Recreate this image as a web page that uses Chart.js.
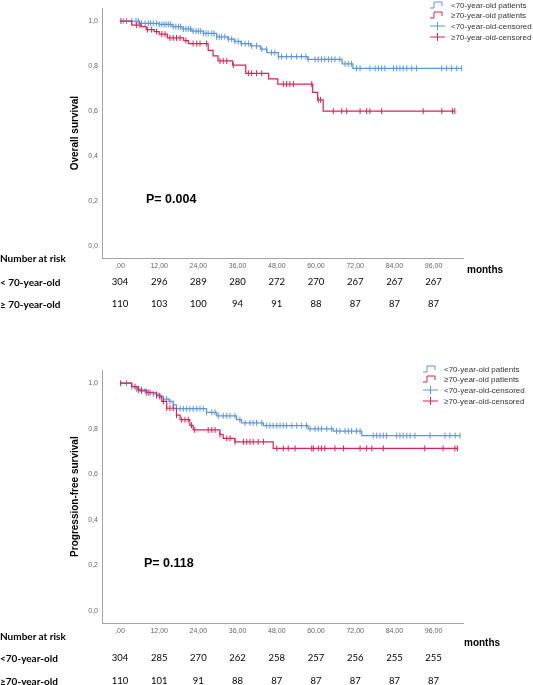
<!DOCTYPE html>
<html>
<head>
<meta charset="utf-8">
<script src="https://cdn.jsdelivr.net/npm/chart.js@4.4.0/dist/chart.umd.min.js"></script>
<style>
  body { margin: 0; background: #fff; }
  #page { position: relative; width: 533px; height: 685px; overflow: hidden; background: #fff; }
  canvas { position: absolute; left: 0; }
  .lbl { position: absolute; left: 0; font: bold 10px Lato, sans-serif; line-height: 10px; color: #000; white-space: nowrap; }
  .num { position: absolute; font: 9.5px Lato, sans-serif; line-height: 10px; color: #000; transform: translateX(-50%); white-space: nowrap; }
  .months { position: absolute; font: bold 10px "Liberation Sans", Arial, sans-serif; line-height: 10px; color: #000; }
  .pval { position: absolute; font: bold 12.5px "Liberation Sans", Arial, sans-serif; line-height: 12px; color: #000; white-space: nowrap; }
  .legend { position: absolute; font: 8px "Liberation Sans", Arial, sans-serif; color: #333; }
  .legend div { height: 10.7px; line-height: 10.7px; white-space: nowrap; }
  .legend svg { vertical-align: middle; margin-right: 6px; margin-top: -2px; }
</style>
</head>
<body>
<div id="page">
  <canvas id="os" width="533" height="285" style="top:0px"></canvas>
  <canvas id="pfs" width="533" height="290" style="top:362px"></canvas>
</div>
<script>
// axis ticks
var xTicks = [0, 12, 24, 36, 48, 60, 72, 84, 96];
var xTickLabels = [',00', '12,00', '24,00', '36,00', '48,00', '60,00', '72,00', '84,00', '96,00'];
var yTicks = [0, 0.2, 0.4, 0.6, 0.8, 1.0];
var yTickLabels = ['0,0', '0,2', '0,4', '0,6', '0,8', '1,0'];

// overall survival, <70
var osYoungT = [0, 6, 12, 16, 19, 22, 25.5, 29.6, 33, 35, 37, 40, 43, 45, 48.5, 57.5, 68, 71.3];
var osYoungS = [1, 0.99, 0.985, 0.975, 0.965, 0.955, 0.945, 0.93, 0.92, 0.91, 0.9, 0.89, 0.875, 0.86, 0.842, 0.83, 0.81, 0.79];
var osYoungCens = [1.0, 2.0, 3.6, 4.9, 5.6, 6.6, 7.7, 8.7, 9.4, 10.2, 11.2, 12.0, 12.8, 13.5, 14.1, 14.8, 15.5, 16.3, 17.1, 17.9,
  18.6, 19.4, 20.2, 20.9, 21.6, 22.4, 23.3, 24.0, 24.7, 25.5, 26.3, 27.0, 28.1, 28.8, 29.6, 30.4, 31.1, 32.1, 33.2, 34.2,
  35.2, 36.2, 37.2, 38.3, 39.3, 40.3, 41.8, 43.4, 44.9, 46.4, 47.4, 48.5, 49.5, 51.0, 52.5, 54.1, 55.6, 56.9, 57.6, 59.7,
  60.7, 61.7, 62.7, 63.8, 64.8, 65.8, 67.3, 68.9, 69.9, 70.9, 72.4, 73.5, 76.5, 78.1, 79.1, 80.1, 81.1, 83.7, 84.7, 85.7,
  86.7, 87.8, 89.3, 90.8, 98.5, 100, 101.5, 103.1, 104.6];

// overall survival, >=70
var osOldT = [0, 3.6, 6.5, 8, 10.5, 12, 14.5, 19.5, 21, 27, 28.5, 30, 34.5, 38.5, 45.5, 48.3, 59, 60.5, 62.2];
var osOldS = [1, 0.982, 0.975, 0.962, 0.953, 0.942, 0.925, 0.913, 0.9, 0.87, 0.845, 0.823, 0.804, 0.768, 0.743, 0.72, 0.683, 0.65, 0.6];
var osOldCens = [0.3, 5.1, 6.1, 8.4, 9.7, 11.2, 12.8, 13.8, 15.3, 16.3, 17.3, 18.4, 20.2, 22.4, 23.5, 24.5, 26.5, 30.6, 31.6,
  32.7, 34.7, 39.3, 40.3, 41.8, 43.4, 50, 51, 52, 53.1, 58.7, 60.7, 61.4, 65.3, 67.9, 69.4, 73.5, 75.5, 76.5, 80.1,
  92.8, 98.5, 101.8, 102.5];

// progression-free survival, <70
var pfsYoungT = [0, 3.6, 5, 6.1, 8, 10.2, 12, 13.3, 15, 16.3, 17.3, 26.5, 29.6, 35.7, 37.2, 43.9, 57.6, 65.3, 74];
var pfsYoungS = [1, 0.985, 0.975, 0.965, 0.96, 0.952, 0.94, 0.93, 0.92, 0.905, 0.888, 0.872, 0.857, 0.84, 0.826, 0.814, 0.8, 0.79, 0.77];
var pfsYoungCens = [2.0, 3.6, 5.1, 6.6, 7.7, 8.7, 10.2, 11.2, 12.2, 13.3, 14.3, 15.3, 16.3, 17.3, 18.4, 19.4, 20.4, 21.4, 22.4,
  23.5, 24.5, 25.5, 26.5, 28.1, 29.1, 30.1, 31.6, 32.7, 33.7, 35.2, 36.7, 38.3, 39.8, 40.8, 41.8, 43.4, 44.9, 45.9, 46.9,
  48.0, 49.0, 50.0, 51.0, 52.6, 54.1, 55.6, 57.1, 58.2, 59.7, 60.7, 61.7, 63.3, 64.8, 66.3, 67.3, 68.9, 69.9, 70.9, 72.4,
  73.5, 77.5, 78.6, 79.6, 80.6, 81.6, 84.7, 85.7, 86.7, 87.8, 88.8, 90.3, 94.9, 99.5, 101.0, 102.6, 104.1];

// progression-free survival, >=70
var pfsOldT = [0, 3.6, 5.6, 8.2, 11.2, 12.8, 14.3, 17.3, 18.4, 21.4, 22.4, 30.6, 31.6, 35.2, 46.9];
var pfsOldS = [1, 0.985, 0.97, 0.958, 0.945, 0.92, 0.89, 0.86, 0.84, 0.815, 0.795, 0.775, 0.758, 0.743, 0.714];
var pfsOldCens = [0.2, 4.6, 5.6, 6.6, 8.2, 9.2, 11.2, 12.2, 13.3, 14.3, 15.3, 16.3, 17.3, 18.9, 19.9, 20.9, 21.9, 22.9, 27.0,
  28.1, 29.1, 30.6, 32.7, 33.7, 35.2, 37.8, 38.8, 39.8, 40.8, 42.3, 43.9, 48.0, 50.0, 51.5, 53.6, 58.7, 59.2, 60.7, 61.7,
  62.7, 65.8, 68.4, 73.5, 75.5, 77.1, 80.6, 93.3, 98.9, 102.5, 103.3];

// number at risk
var osYoungRisk = [304, 296, 289, 280, 272, 270, 267, 267, 267];
var osOldRisk = [110, 103, 100, 94, 91, 88, 87, 87, 87];
var pfsYoungRisk = [304, 285, 270, 262, 258, 257, 256, 255, 255];
var pfsOldRisk = [110, 101, 91, 88, 87, 87, 87, 87, 87];

var blue = 'rgb(88,150,228)';
var red = 'rgb(222,32,84)';
var legendLabels = ['<70-year-old patients', '\u226570-year-old patients', '<70-year-old-censored', '\u226570-year-old-censored'];

function stepAt(T, S, t) {
  var s = S[0];
  for (var i = 0; i < T.length; i++) { if (T[i] <= t) s = S[i]; }
  return s;
}
function kmLine(T, S, C) {
  var pts = T.map(function(t, i) { return {x: t, y: S[i]}; });
  pts.push({x: Math.max.apply(null, C), y: S[S.length - 1]});
  return pts;
}
function censorPts(T, S, C) {
  return C.map(function(t) { return {x: t, y: stepAt(T, S, t)}; });
}

function makeChart(id, title, padTop, xHeight, young, old) {
  var ds = [];
  ds.push({data: kmLine(old.T, old.S, old.C), borderColor: red, borderWidth: 1.2, stepped: true, pointRadius: 0, fill: false});
  ds.push({data: censorPts(old.T, old.S, old.C), showLine: false, pointStyle: 'line', rotation: 90, pointRadius: 3,
    borderColor: red, pointBorderWidth: 1});
  ds.push({data: kmLine(young.T, young.S, young.C), borderColor: blue, borderWidth: 1.2, stepped: true, pointRadius: 0, fill: false});
  ds.push({data: censorPts(young.T, young.S, young.C), showLine: false, pointStyle: 'line', rotation: 90, pointRadius: 3,
    borderColor: blue, pointBorderWidth: 1});

  return new Chart(document.getElementById(id), {
    type: 'line',
    data: {datasets: ds},
    options: {
      responsive: false,
      animation: false,
      devicePixelRatio: 1,
      layout: {padding: {left: 0, top: padTop, right: 70, bottom: 0}},
      plugins: {legend: {display: false}, tooltip: {enabled: false}},
      scales: {
        x: {
          type: 'linear', min: -5.5, max: 105,
          grid: {display: false, drawTicks: false},
          border: {display: true, color: '#a5a5a5', width: 1},
          afterBuildTicks: function(s) { s.ticks = xTicks.map(function(v) { return {value: v}; }); },
          afterFit: function(s) { s.height = xHeight; },
          ticks: {
            padding: 4, maxRotation: 0, autoSkip: false, color: '#666',
            font: {family: 'Liberation Sans', size: 7},
            callback: function(v, i) { return xTickLabels[i]; }
          }
        },
        y: {
          min: -0.052, max: 1.057,
          grid: {display: false, drawTicks: false},
          border: {display: true, color: '#a5a5a5', width: 1},
          afterBuildTicks: function(s) { s.ticks = yTicks.map(function(v) { return {value: v}; }); },
          afterFit: function(s) { s.width = 102; },
          ticks: {
            padding: 4, color: '#666',
            font: {family: 'Liberation Sans', size: 7},
            callback: function(v, i) { return yTickLabels[i]; }
          },
          title: {
            display: true, text: title, color: '#000',
            font: {family: 'Liberation Sans', size: 10, weight: 'bold'},
            padding: {top: 69, bottom: 0}
          }
        }
      }
    }
  });
}

var page = document.getElementById('page');
function addDiv(cls, text, left, top) {
  var d = document.createElement('div');
  d.className = cls;
  d.textContent = text;
  d.style.left = left + 'px';
  d.style.top = top + 'px';
  page.appendChild(d);
  return d;
}
function addLegend(left, top) {
  var box = document.createElement('div');
  box.className = 'legend';
  box.style.left = left + 'px';
  box.style.top = top + 'px';
  var icons = [
    '<path d="M0,8 H4 V2 H12 V6" fill="none" stroke="' + blue + '" stroke-width="1"/>',
    '<path d="M0,8 H4 V2 H12 V6" fill="none" stroke="' + red + '" stroke-width="1"/>',
    '<path d="M0,5 H15 M7.5,1 V9" fill="none" stroke="' + blue + '" stroke-width="1"/>',
    '<path d="M0,5 H15 M7.5,1 V9" fill="none" stroke="' + red + '" stroke-width="1"/>'
  ];
  legendLabels.forEach(function(lab, i) {
    var row = document.createElement('div');
    row.innerHTML = '<svg width="15" height="10">' + icons[i] + '</svg>';
    row.appendChild(document.createTextNode(lab));
    box.appendChild(row);
  });
  page.appendChild(box);
}
function addRiskRow(chart, values, top) {
  var xs = chart.scales.x;
  values.forEach(function(v, i) {
    addDiv('num', String(v), xs.getPixelForValue(xTicks[i]), top);
  });
}

var osChart = makeChart('os', 'Overall survival', 3, 27,
  {T: osYoungT, S: osYoungS, C: osYoungCens}, {T: osOldT, S: osOldS, C: osOldCens});
var pfsChart = makeChart('pfs', 'Progression-free survival', 5, 29,
  {T: pfsYoungT, S: pfsYoungS, C: pfsYoungCens}, {T: pfsOldT, S: pfsOldS, C: pfsOldCens});

// top panel texts
addLegend(430, 0.7);
addDiv('pval', 'P= 0.004', 146, 193);
addDiv('months', 'months', 467, 265);
addDiv('lbl', 'Number at risk', 0, 253);
addDiv('lbl', '< 70-year-old', 0, 277);
addDiv('lbl', '\u2265 70-year-old', 0, 299);
addRiskRow(osChart, osYoungRisk, 277);
addRiskRow(osChart, osOldRisk, 299);

// bottom panel texts
addLegend(423, 364.7);
addDiv('pval', 'P= 0.118', 144, 557);
addDiv('months', 'months', 464, 638);
addDiv('lbl', 'Number at risk', 0, 631);
addDiv('lbl', '<70-year-old', 0, 653);
addDiv('lbl', '\u226570-year-old', 0, 676);
addRiskRow(pfsChart, pfsYoungRisk, 653);
addRiskRow(pfsChart, pfsOldRisk, 676);
</script>
</body>
</html>
